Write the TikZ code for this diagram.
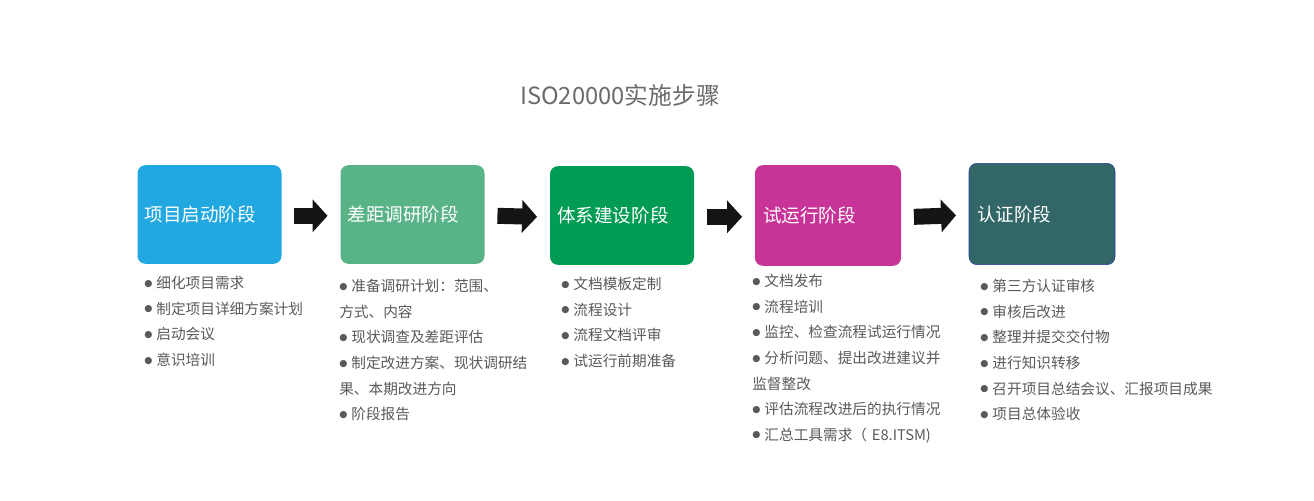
\documentclass[tikz,border=0pt]{standalone}
\usepackage{fontspec}
\setmainfont{Noto Sans CJK SC}
\newfontfamily\symfont{DejaVu Sans}
\usetikzlibrary{positioning,arrows.meta}
\definecolor{startblue}{HTML}{22A8E0}
\definecolor{gapgreen}{HTML}{58B386}
\definecolor{buildgreen}{HTML}{009C54}
\definecolor{trialpink}{HTML}{C83398}
\definecolor{certteal}{HTML}{336666}
\definecolor{textgray}{HTML}{595959}
\tikzstyle{stage} = [rounded corners=6pt, minimum width=108pt, minimum height=74pt, text width=97pt, inner xsep=5.5pt, align=left, text=white, font=\fontsize{13.9}{16}\selectfont]
\tikzstyle{line} = [draw=black!92, line width=12pt, -{Triangle[length=11.25pt,width=24pt]}]
\tikzstyle{items} = [anchor=base west, inner sep=0pt, text width=190pt, align=left, text=textgray, font=\fontsize{11}{19.2}\selectfont]
\newcommand\bul{\raisebox{1.8pt}{\symfont\fontsize{7}{7}\selectfont ●}\hspace{3pt}}

\begin{document}
\begin{tikzpicture}[x=0.75pt,y=-0.75pt]
    \useasboundingbox (0,0) rectangle (1314,500);
    % title
    \node[text=textgray!90, font=\fontsize{17.8}{20}\selectfont] (title) at (620,95) {ISO20000实施步骤};
    % the five stages
    \node[stage, fill=startblue] (s1) at (209.5,214.5) {项目启动阶段};
    \node[stage, fill=gapgreen] (s2) at (412.5,214.5) {差距调研阶段};
    \node[stage, fill=buildgreen] (s3) at (622,215.5) {体系建设阶段};
    \node[stage, fill=trialpink, minimum width=109.5pt, minimum height=75.5pt, text width=97.5pt, inner xsep=6pt] (s4) at (828,215.5) {试运行阶段};
    \node[stage, fill=certteal, draw=blue!40!certteal, minimum width=109.5pt, minimum height=76pt, text width=97.5pt, inner xsep=6pt] (s5) at (1042,214) {认证阶段};
    % arrows between stages
    \foreach \a/\b in {s1/s2,s2/s3,s3/s4,s4/s5}
        \draw[line] ([xshift=9.5pt,yshift=-1pt]\a.east) -- ([xshift=-9.5pt,yshift=-1pt]\b.west);
    % task lists
    \node[items] (l1) at (144,288.6) {\bul 细化项目需求\\ \bul 制定项目详细方案计划\\ \bul 启动会议\\ \bul 意识培训};
    \node[items] (l2) at (339,291.6) {\bul 准备调研计划：范围、\\ 方式、内容\\ \bul 现状调查及差距评估\\ \bul 制定改进方案、现状调研结\\ 果、本期改进方向\\ \bul 阶段报告};
    \node[items] (l3) at (561,289.6) {\bul 文档模板定制\\ \bul 流程设计\\ \bul 流程文档评审\\ \bul 试运行前期准备};
    \node[items] (l4) at (752,286.6) {\bul 文档发布\\ \bul 流程培训\\ \bul 监控、检查流程试运行情况\\ \bul 分析问题、提出改进建议并\\ 监督整改\\ \bul 评估流程改进后的执行情况\\ \bul 汇总工具需求（ E8.ITSM)};
    \node[items] (l5) at (980,291.6) {\bul 第三方认证审核\\ \bul 审核后改进\\ \bul 整理并提交交付物\\ \bul 进行知识转移\\ \bul 召开项目总结会议、汇报项目成果\\ \bul 项目总体验收};
\end{tikzpicture}
\end{document}
